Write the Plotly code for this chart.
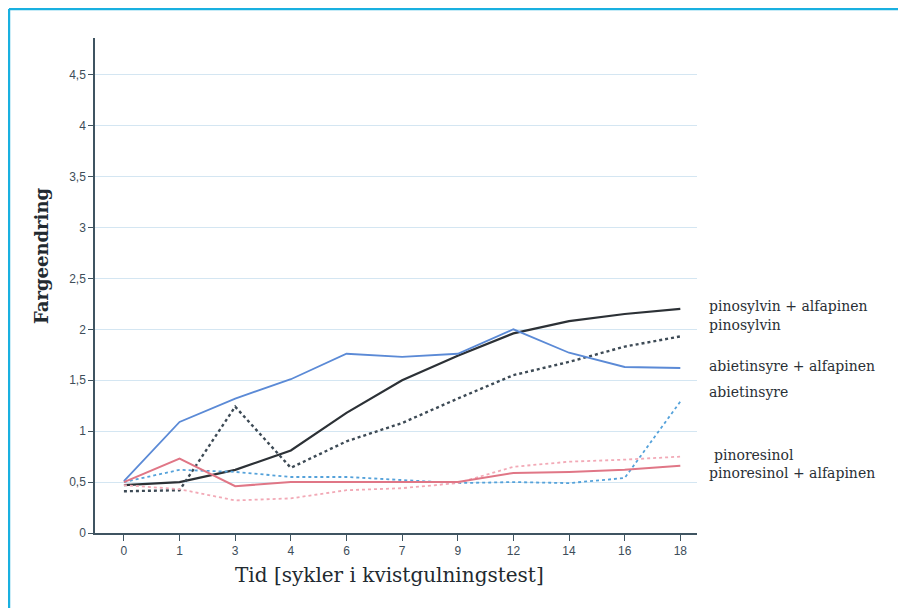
import plotly.graph_objects as go

categories = ["0", "1", "3", "4", "6", "7", "9", "12", "14", "16", "18"]

pinosylvin_alfapinen = [0.47, 0.50, 0.62, 0.81, 1.18, 1.50, 1.74, 1.96, 2.08, 2.15, 2.20]
pinosylvin = [0.41, 0.42, 1.24, 0.64, 0.90, 1.08, 1.32, 1.55, 1.68, 1.83, 1.93]
abietinsyre_alfapinen = [0.51, 1.09, 1.32, 1.51, 1.76, 1.73, 1.76, 2.00, 1.77, 1.63, 1.62]
abietinsyre = [0.50, 0.62, 0.60, 0.55, 0.55, 0.52, 0.49, 0.50, 0.49, 0.54, 1.29]
pinoresinol = [0.47, 0.43, 0.32, 0.34, 0.42, 0.44, 0.49, 0.65, 0.70, 0.72, 0.75]
pinoresinol_alfapinen = [0.50, 0.73, 0.46, 0.50, 0.50, 0.50, 0.50, 0.59, 0.60, 0.62, 0.66]

labels = ["pinosylvin + alfapinen", "pinosylvin", "abietinsyre + alfapinen",
          "abietinsyre", "pinoresinol", "pinoresinol + alfapinen"]
label_y = [2.23, 2.04, 1.64, 1.38, 0.77, 0.59]
label_x = [1.017, 1.017, 1.017, 1.017, 1.025, 1.017]

y_ticks = [0, 0.5, 1, 1.5, 2, 2.5, 3, 3.5, 4, 4.5]
y_ticktext = ["0", "0,5", "1", "1,5", "2", "2,5", "3", "3,5", "4", "4,5"]

series = [
    (pinosylvin_alfapinen, "#2c3136", "solid", 2.2),
    (pinosylvin, "#3d4a55", "dot", 2.4),
    (abietinsyre_alfapinen, "#5b8ad6", "solid", 1.8),
    (abietinsyre, "#55a2da", "dot", 1.8),
    (pinoresinol, "#f2a9b6", "dot", 1.8),
    (pinoresinol_alfapinen, "#e07686", "solid", 2.0),
]

fig = go.Figure()
for (vals, color, dash, w), name in zip(series, labels):
    fig.add_trace(go.Scatter(x=categories, y=vals, mode="lines", name=name,
                             line=dict(color=color, dash=dash, width=w)))

serif = "DejaVu Serif"
for txt, yy, xx in zip(labels, label_y, label_x):
    fig.add_annotation(text=txt, x=xx, xref="paper", y=yy, yref="y",
                       xanchor="left", yanchor="middle", showarrow=False,
                       font=dict(family=serif, size=14, color="#2a3036"))

# axis titles
fig.add_annotation(text="<b>Fargeendring</b>", textangle=-90, x=-0.088, xref="paper",
                   y=2.72, yref="y", xanchor="center", yanchor="middle", showarrow=False,
                   font=dict(family=serif, size=18, color="#222a30"))
fig.add_annotation(text="Tid [sykler i kvistgulningstest]", x=0.49, xref="paper",
                   y=-0.085, yref="paper", xanchor="center", yanchor="middle", showarrow=False,
                   font=dict(family=serif, size=20, color="#222a30"))

# page border (left and top)
fig.add_shape(type="line", xref="paper", yref="paper",
              x0=-0.1429, x1=-0.1429, y0=-0.2, y1=1.0586,
              line=dict(color="#19b0e0", width=2.5))
fig.add_shape(type="line", xref="paper", yref="paper",
              x0=-0.1429, x1=1.4, y0=1.0586, y1=1.0586,
              line=dict(color="#19b0e0", width=2.5))

tickfont = dict(family="Liberation Sans", size=12, color="#3d4d59")
fig.update_layout(
    width=906, height=608,
    margin=dict(l=87, r=217, t=30, b=83),
    paper_bgcolor="white", plot_bgcolor="white",
    showlegend=False,
    xaxis=dict(type="category", range=[-0.52, 10.3],
               showline=True, linecolor="#3f5461", linewidth=1.5,
               ticks="outside", ticklen=6, tickcolor="#3f5461",
               showgrid=False, zeroline=False, tickfont=tickfont),
    yaxis=dict(range=[0, 4.86], tickvals=y_ticks, ticktext=y_ticktext,
               showline=True, linecolor="#3f5461", linewidth=1.5,
               ticks="outside", ticklen=5, tickcolor="#3f5461",
               showgrid=True, gridcolor="#d4e6f2", gridwidth=1, zeroline=False,
               tickfont=tickfont),
)

fig.write_html("out.html")
